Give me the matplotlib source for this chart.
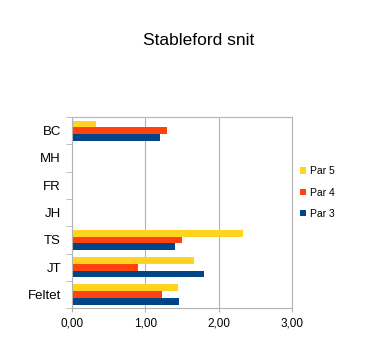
import matplotlib.pyplot as plt
import numpy as np

plt.rcParams["font.family"] = ["Liberation Sans", "DejaVu Sans"]

categories = ["BC", "MH", "FR", "JH", "TS", "JT", "Feltet"]
par5 = [0.32, 0, 0, 0, 2.33, 1.66, 1.45]
par4 = [1.30, 0, 0, 0, 1.50, 0.90, 1.23]
par3 = [1.20, 0, 0, 0, 1.40, 1.80, 1.46]
xticks = [0, 1, 2, 3]
xticklabels = ["0,00", "1,00", "2,00", "3,00"]

colors = {"Par 5": "#FFD320", "Par 4": "#FF420E", "Par 3": "#004586"}

fig = plt.figure(figsize=(3.66, 3.47), dpi=100)
ax = fig.add_axes([0.197, 0.112, 0.601, 0.551])

y = np.arange(len(categories))
h = 0.245
ax.barh(y - h, par5, height=h, color=colors["Par 5"], label="Par 5")
ax.barh(y, par4, height=h, color=colors["Par 4"], label="Par 4")
ax.barh(y + h, par3, height=h, color=colors["Par 3"], label="Par 3")

ax.set_ylim(len(categories) - 0.5, -0.5)
ax.set_yticks(y)
ax.set_yticklabels(categories, fontsize=9.5)
ax.set_xlim(0, 3)
ax.set_xticks(xticks)
ax.set_xticklabels(xticklabels, fontsize=8.5)
ax.xaxis.grid(True, color="#b3b3b3", linewidth=0.8)
ax.set_axisbelow(True)

# category separators on the y axis
ax.set_yticks(np.arange(len(categories) + 1) - 0.5, minor=True)
ax.tick_params(axis="y", which="major", length=0, pad=8)
ax.tick_params(axis="y", which="minor", length=4, color="#b3b3b3")
ax.tick_params(axis="x", length=3, color="#b3b3b3", pad=4)
for s in ax.spines.values():
    s.set_color("#b3b3b3")
    s.set_linewidth(0.8)

fig.text(0.543, 0.883, "Stableford snit", ha="center", va="center", fontsize=12.5)

handles, labels = ax.get_legend_handles_labels()
fig.legend(handles, labels, loc="center left", bbox_to_anchor=(0.805, 0.445),
           frameon=False, fontsize=7.5, handlelength=0.55, handleheight=0.55,
           handletextpad=0.45, labelspacing=1.1, borderpad=0)

fig.savefig("out.png", dpi=100)
